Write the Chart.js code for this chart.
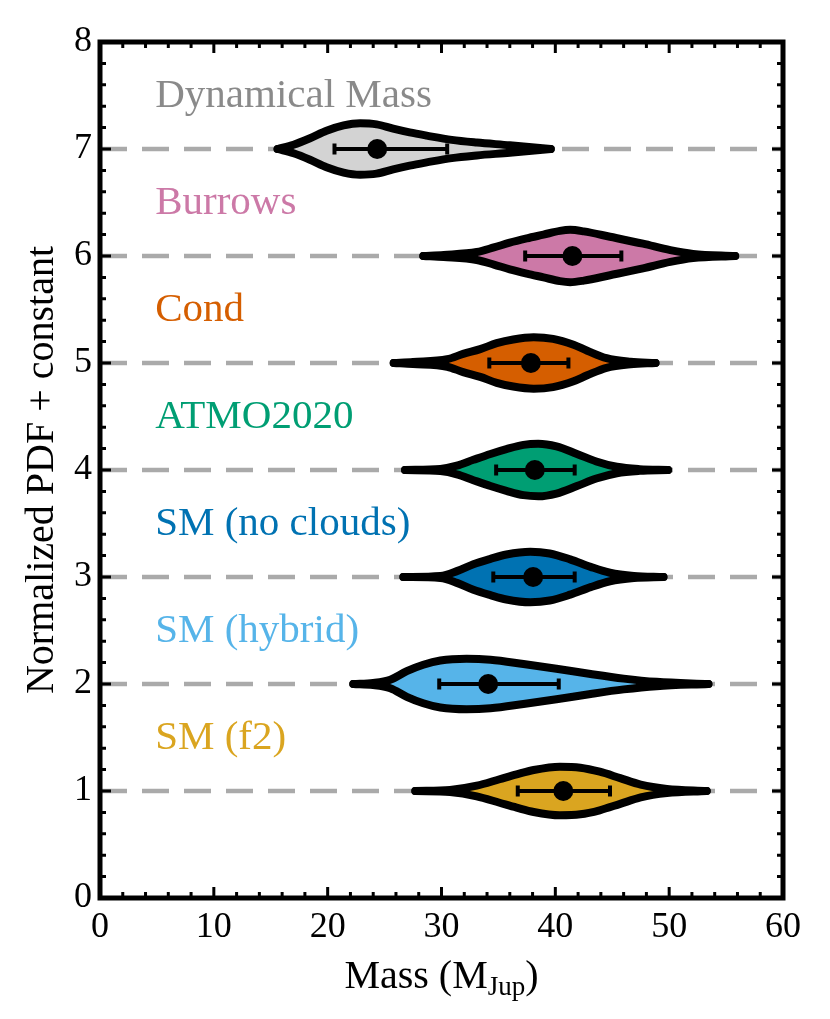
<!DOCTYPE html>
<html>
<head>
<meta charset="utf-8">
<script src="https://cdn.jsdelivr.net/npm/chart.js@4.4.1/dist/chart.umd.min.js"></script>
<style>
  body { margin: 0; background: #fff; }
  #wrap { width: 830px; height: 1019px; }
</style>
</head>
<body>
<div id="wrap"><canvas id="violins" width="830" height="1019"></canvas></div>
<script>
// model names, bottom to top, and the level each violin sits on
const models = ["SM (f2)", "SM (hybrid)", "SM (no clouds)", "ATMO2020", "Cond", "Burrows", "Dynamical Mass"];
const levels = [1, 2, 3, 4, 5, 6, 7];
const fillColors = ["#DAA520", "#56B4E9", "#0072B2", "#009E73", "#D55E00", "#CC79A7", "#D3D3D3"];
const textColors = ["#DAA520", "#56B4E9", "#0072B2", "#009E73", "#D55E00", "#CC79A7", "#8a8a8a"];

// violin outlines: mass samples and half-width of the PDF (y units)
const massF2 = [27.7, 30.75, 33.1, 35.1, 36.6, 38.1, 40.4, 42.2, 43.9, 45.7, 47.5, 49.8, 53.3];
const widthF2 = [0, 0.01, 0.05, 0.11, 0.155, 0.196, 0.227, 0.218, 0.18, 0.12, 0.06, 0.02, 0];

const massHybrid = [22.25, 24.0, 25.5, 26.95, 28.4, 29.9, 32.2, 34.3, 37.2, 40.1, 43.1, 46.0, 48.9, 53.45];
const widthHybrid = [0, 0.01, 0.04, 0.12, 0.18, 0.22, 0.236, 0.227, 0.187, 0.143, 0.093, 0.05, 0.02, 0];

const massNoClouds = [26.65, 29.9, 31.35, 32.8, 34.3, 35.7, 37.8, 39.5, 41.3, 43.1, 44.8, 46.9, 49.5];
const widthNoClouds = [0, 0.01, 0.055, 0.12, 0.17, 0.21, 0.236, 0.22, 0.165, 0.095, 0.04, 0.01, 0];

const massAtmo = [26.8, 29.9, 31.35, 32.8, 34.3, 35.7, 37.2, 38.5, 40.1, 41.9, 43.6, 45.4, 47.4, 49.9];
const widthAtmo = [0, 0.01, 0.04, 0.095, 0.15, 0.195, 0.235, 0.245, 0.22, 0.15, 0.08, 0.03, 0.008, 0];

const massCond = [25.8, 27.5, 30.5, 31.9, 33.4, 34.85, 36.3, 38.1, 39.8, 41.6, 42.8, 44.5, 46.6, 48.8];
const widthCond = [0, 0.01, 0.035, 0.085, 0.13, 0.185, 0.22, 0.24, 0.225, 0.17, 0.115, 0.045, 0.012, 0];

const massBurrows = [28.4, 30.2, 33.1, 34.6, 36.0, 37.5, 38.96, 40.4, 41.3, 42.5, 44.8, 47.7, 50.1, 52.1, 55.8];
const widthBurrows = [0, 0.01, 0.037, 0.08, 0.125, 0.165, 0.2, 0.235, 0.245, 0.23, 0.18, 0.115, 0.055, 0.02, 0];

const massDyn = [15.6, 17.0, 18.45, 19.9, 21.4, 22.85, 24.3, 25.75, 27.2, 28.7, 30.9, 33.1, 36.0, 39.6];
const widthDyn = [0, 0.04, 0.10, 0.17, 0.22, 0.24, 0.23, 0.19, 0.155, 0.125, 0.085, 0.06, 0.035, 0];

const violinMass = [massF2, massHybrid, massNoClouds, massAtmo, massCond, massBurrows, massDyn];
const violinWidth = [widthF2, widthHybrid, widthNoClouds, widthAtmo, widthCond, widthBurrows, widthDyn];

// median and 1-sigma range
const errLow = [36.7, 29.8, 34.55, 34.8, 34.2, 37.35, 20.6];
const median = [40.7, 34.1, 38.05, 38.2, 37.85, 41.5, 24.35];
const errHigh = [44.8, 40.3, 41.7, 41.7, 41.15, 45.8, 30.5];

const xTicks = [0, 10, 20, 30, 40, 50, 60];
const yTicks = [0, 1, 2, 3, 4, 5, 6, 7, 8];

const SERIF = "'Liberation Serif', 'DejaVu Serif', serif";

const datasets = [];

levels.forEach((lvl) => {
  datasets.push({
    data: [{ x: 0, y: lvl }, { x: 60, y: lvl }],
    showLine: true,
    borderColor: "#aaaaaa",
    borderWidth: 4.5,
    borderDash: [27, 15],
    pointRadius: 0,
    fill: false,
    order: 30,
  });
});

levels.forEach((lvl, i) => {
  const m = violinMass[i];
  const w = violinWidth[i];
  const common = {
    showLine: true,
    borderColor: "#000",
    borderWidth: 8,
    borderCapStyle: "round",
    borderJoinStyle: "round",
    cubicInterpolationMode: "monotone",
    pointRadius: 0,
    order: 20,
  };
  datasets.push({ ...common, data: m.map((x, j) => ({ x, y: lvl + w[j] })), fill: false });
  datasets.push({ ...common, data: m.map((x, j) => ({ x, y: lvl - w[j] })), fill: "-1", backgroundColor: fillColors[i] });
});

levels.forEach((lvl, i) => {
  datasets.push({
    data: [{ x: errLow[i], y: lvl }, { x: errHigh[i], y: lvl }],
    showLine: true,
    borderColor: "#000",
    borderWidth: 4,
    pointStyle: "line",
    rotation: 90,
    pointRadius: 5.5,
    pointBorderWidth: 4,
    pointBorderColor: "#000",
    fill: false,
    order: 10,
  });
});

datasets.push({
  data: levels.map((lvl, i) => ({ x: median[i], y: lvl })),
  showLine: false,
  pointRadius: 10,
  pointBackgroundColor: "#000",
  pointBorderColor: "#000",
  pointBorderWidth: 0,
  order: 0,
});

const framePlugin = {
  id: "frame",
  afterDraw(chart) {
    const { ctx, chartArea: a, scales } = chart;
    const xs = scales.x, ys = scales.y;
    ctx.save();

    // model labels
    ctx.font = "41px " + SERIF;
    ctx.textAlign = "left";
    ctx.textBaseline = "alphabetic";
    models.forEach((name, i) => {
      ctx.fillStyle = textColors[i];
      ctx.fillText(name, xs.getPixelForValue(4.85), ys.getPixelForValue(levels[i] + 0.39));
    });

    // inward ticks on all four sides
    ctx.strokeStyle = "#000";
    ctx.lineWidth = 3;
    ctx.lineCap = "butt";
    ctx.beginPath();
    for (let v = 0; v <= 60; v += 2) {
      const px = xs.getPixelForValue(v);
      const len = v % 10 === 0 ? 11 : 6;
      ctx.moveTo(px, a.bottom); ctx.lineTo(px, a.bottom - len);
      ctx.moveTo(px, a.top); ctx.lineTo(px, a.top + len);
    }
    for (let k = 0; k <= 40; k++) {
      const py = ys.getPixelForValue(k / 5);
      const len = k % 5 === 0 ? 11 : 6;
      ctx.moveTo(a.left, py); ctx.lineTo(a.left + len, py);
      ctx.moveTo(a.right, py); ctx.lineTo(a.right - len, py);
    }
    ctx.stroke();

    ctx.lineWidth = 5;
    ctx.strokeRect(a.left, a.top, a.right - a.left, a.bottom - a.top);

    // axis titles
    ctx.fillStyle = "#000";
    ctx.font = "40px " + SERIF;
    ctx.save();
    ctx.translate(42, (a.top + a.bottom) / 2);
    ctx.rotate(-Math.PI / 2);
    ctx.textAlign = "center";
    ctx.textBaseline = "middle";
    ctx.fillText("Normalized PDF + constant", 0, 0);
    ctx.restore();

    const main1 = "Mass (M", sub = "Jup", main2 = ")";
    ctx.textAlign = "left";
    ctx.textBaseline = "alphabetic";
    ctx.font = "40px " + SERIF;
    const w1 = ctx.measureText(main1).width, w3 = ctx.measureText(main2).width;
    ctx.font = "27px " + SERIF;
    const w2 = ctx.measureText(sub).width;
    let x0 = (a.left + a.right) / 2 - (w1 + w2 + w3) / 2;
    const base = 988;
    ctx.font = "40px " + SERIF;
    ctx.fillText(main1, x0, base);
    ctx.font = "27px " + SERIF;
    ctx.fillText(sub, x0 + w1, base + 7);
    ctx.font = "40px " + SERIF;
    ctx.fillText(main2, x0 + w1 + w2, base);
    ctx.restore();
  },
};

new Chart(document.getElementById("violins"), {
  type: "scatter",
  data: { datasets },
  options: {
    responsive: false,
    animation: false,
    events: [],
    layout: { padding: { top: 42, right: 47, left: 0, bottom: 0 } },
    plugins: { legend: { display: false }, tooltip: { enabled: false } },
    scales: {
      x: {
        type: "linear",
        min: 0,
        max: 60,
        afterBuildTicks: (s) => { s.ticks = xTicks.map((v) => ({ value: v })); },
        afterFit: (s) => { s.height = 121; },
        grid: { display: false, drawTicks: false },
        border: { display: false },
        ticks: { color: "#000", font: { family: SERIF, size: 36 }, padding: 8, maxRotation: 0 },
      },
      y: {
        type: "linear",
        min: 0,
        max: 8,
        afterBuildTicks: (s) => { s.ticks = yTicks.map((v) => ({ value: v })); },
        afterFit: (s) => { s.width = 100; },
        grid: { display: false, drawTicks: false },
        border: { display: false },
        ticks: { color: "#000", font: { family: SERIF, size: 36 }, padding: 8 },
      },
    },
  },
  plugins: [framePlugin],
});
</script>
</body>
</html>
